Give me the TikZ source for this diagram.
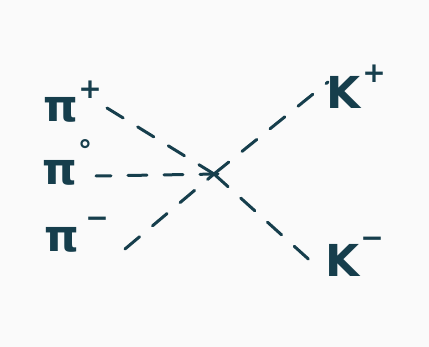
\documentclass[tikz,border=0pt]{standalone}
\usepackage{fontspec}
\setmainfont{DejaVu Sans}
\definecolor{ink}{HTML}{163E4C}
\definecolor{bg}{HTML}{FAFAFA}
\tikzset{
  lab/.style={inner sep=0pt, text=ink, font=\fontsize{44}{44}\selectfont\bfseries},
  supl/.style={inner sep=0pt, text=ink, font=\fontsize{28}{28}\selectfont\bfseries},
  dl/.style={draw=ink, line width=3pt, line cap=round, dash pattern=on 19pt off 17pt}
}
\begin{document}
\begin{tikzpicture}[x=1pt,y=-1pt]
\fill[bg] (0,0) rectangle (429,347);
\useasboundingbox (0,0) rectangle (429,347);
% left labels
\node[lab] (pip) at (61,110) {π};
\node[supl] (pipsup) at (90,90) {+};
\node[lab] (piz) at (60,173) {π};
\node[supl] (pizsup) at (85,150) {°};
\node[lab] (pim) at (62,240) {π};
\node[supl] (pimsup) at (97,222) {−};
% right labels
\node[lab] (kp) at (344,92) {K};
\node[supl] (kpsup) at (374,74) {+};
\node[lab] (km) at (343,260) {K};
\node[supl] (kmsup) at (372,242) {−};
% vertex
\coordinate (v) at (214,174);
\coordinate (p1) at (107,108);
\coordinate (p2) at (96,176);
\coordinate (p3) at (125,249);
\coordinate (k1) at (328,82);
\coordinate (k2) at (315,265);
\draw[dl] (p1) -- (v);
\draw[dl, dash phase=4pt] (p2) -- ([xshift=4pt]v);
\draw[dl] (p3) -- (v);
\draw[dl] (v) -- (k1);
\draw[dl] (v) -- (k2);
\end{tikzpicture}
\end{document}
